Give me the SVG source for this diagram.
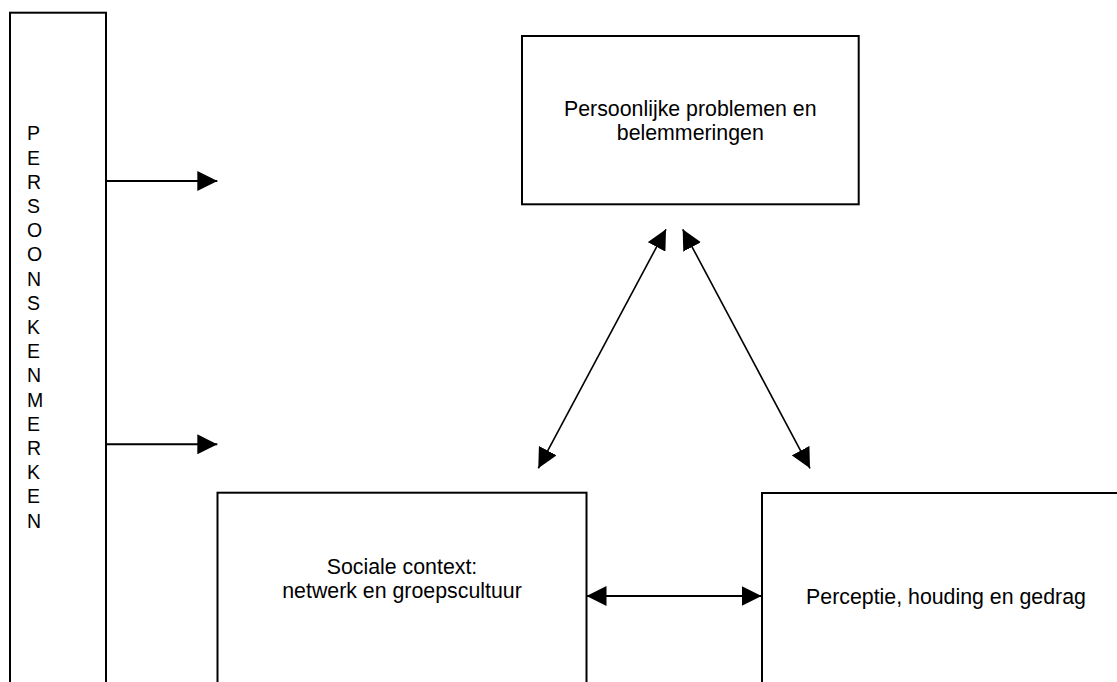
<svg xmlns="http://www.w3.org/2000/svg" width="1117" height="682" viewBox="0 0 1117 682">
<style>
.box{fill:#fff;stroke:#000;stroke-width:2}
.lbl{font-family:"Liberation Sans",Arial,sans-serif;font-size:21.33px;fill:#000;text-anchor:middle}
.vert{font-family:"Liberation Sans",Arial,sans-serif;font-size:19.5px;fill:#000}
.con{stroke:#000;fill:none}
</style>
<defs>
<marker id="ah" markerUnits="userSpaceOnUse" markerWidth="20" markerHeight="20" refX="20" refY="10" orient="auto-start-reverse" viewBox="0 0 20 20">
<path d="M0,0 L20,10 L0,20 z" fill="#000"/>
</marker>
</defs>
<rect width="1117" height="682" fill="#fff"/>
<g id="persoonskenmerken">
<rect class="box" x="10" y="12.7" width="96" height="720"/>
<text class="vert">
<tspan x="27" y="140.3">P</tspan>
<tspan x="27" y="164.5">E</tspan>
<tspan x="27" y="188.7">R</tspan>
<tspan x="27" y="212.9">S</tspan>
<tspan x="27" y="237.1">O</tspan>
<tspan x="27" y="261.3">O</tspan>
<tspan x="27" y="285.5">N</tspan>
<tspan x="27" y="309.7">S</tspan>
<tspan x="27" y="333.9">K</tspan>
<tspan x="27" y="358.1">E</tspan>
<tspan x="27" y="382.3">N</tspan>
<tspan x="27" y="406.5">M</tspan>
<tspan x="27" y="430.7">E</tspan>
<tspan x="27" y="454.9">R</tspan>
<tspan x="27" y="479.1">K</tspan>
<tspan x="27" y="503.3">E</tspan>
<tspan x="27" y="527.5">N</tspan>
</text>
</g>
<g id="problemen">
<rect class="box" x="522" y="36" width="336.7" height="168.3"/>
<text class="lbl"><tspan x="690.3" y="115.5">Persoonlijke problemen en</tspan><tspan x="690.3" y="140">belemmeringen</tspan></text>
</g>
<g id="sociale-context">
<rect class="box" x="217.5" y="492.7" width="369" height="300"/>
<text class="lbl"><tspan x="402" y="573.5">Sociale context:</tspan><tspan x="402" y="597.5">netwerk en groepscultuur</tspan></text>
</g>
<g id="perceptie">
<rect class="box" x="762" y="493" width="400" height="300"/>
<text class="lbl" x="946" y="604">Perceptie, houding en gedrag</text>
</g>
<g id="connectors">
<line class="con" stroke-width="2" x1="106" y1="181" x2="217.3" y2="181" marker-end="url(#ah)"/>
<line class="con" stroke-width="2" x1="106" y1="444.3" x2="217.3" y2="444.3" marker-end="url(#ah)"/>
<line class="con" stroke-width="2" x1="586.5" y1="596" x2="761.5" y2="596" marker-start="url(#ah)" marker-end="url(#ah)"/>
<line class="con" stroke-width="1.6" x1="538.3" y1="468.3" x2="666" y2="229.3" marker-start="url(#ah)" marker-end="url(#ah)"/>
<line class="con" stroke-width="1.6" x1="682.7" y1="229.3" x2="810" y2="468.3" marker-start="url(#ah)" marker-end="url(#ah)"/>
</g>
</svg>
